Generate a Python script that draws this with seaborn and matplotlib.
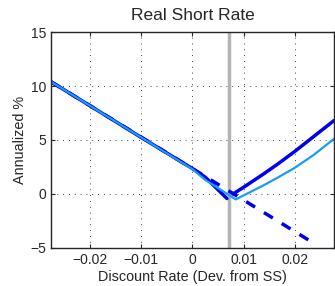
import numpy as np
import pandas as pd
import matplotlib
matplotlib.use("Agg")
import matplotlib.pyplot as plt
import seaborn as sns

# discount rate (dev. from SS) and real short rate (annualized %)
x_zlb_left = [-0.0275, -0.02, -0.01, 0.0, 0.0025, 0.0067]
y_zlb_left = [10.4, 8.2, 5.25, 2.35, 1.55, -0.42]
x_zlb_right = [0.0079, 0.0105, 0.0138, 0.0165, 0.0199, 0.0235, 0.0275]
y_zlb_right = [0.0, 0.8, 1.85, 2.75, 3.95, 5.3, 6.8]

x_alt = [-0.0275, -0.02, -0.01, 0.0, 0.0025, 0.0084, 0.0105, 0.0138, 0.0165, 0.0199, 0.0235, 0.0275]
y_alt = [10.4, 8.2, 5.25, 2.3, 1.3, -0.5, 0.0, 0.8, 1.5, 2.43, 3.6, 5.1]

x_nozlb = [-0.0275, -0.01, 0.0, 0.01, 0.0233]
y_nozlb = [10.4, 5.28, 2.35, -0.58, -4.48]

ss_line = 0.0071

xticks = [-0.02, -0.01, 0, 0.01, 0.02]
xticklabels = ["\u22120.02", "\u22120.01", "0", "0.01", "0.02"]
yticks = [-5, 0, 5, 10, 15]
yticklabels = ["\u22125", "0", "5", "10", "15"]

sns.set_style("ticks")
plt.rcParams["font.family"] = ["Liberation Sans", "DejaVu Sans"]
plt.rcParams["xtick.direction"] = "in"
plt.rcParams["ytick.direction"] = "in"

fig = plt.figure(figsize=(3.35, 2.86), dpi=100)
ax = fig.add_axes([0.152, 0.133, 0.845, 0.755])

ax.axvline(ss_line, color="#b4b4b4", lw=2.5, zorder=1)

dark = "#0000ee"
light = "#1a9cf0"
sns.lineplot(x=x_nozlb, y=y_nozlb, ax=ax, color=dark, lw=2.5, linestyle=(0, (3, 3)))
sns.lineplot(x=x_zlb_left, y=y_zlb_left, ax=ax, color=dark, lw=2.5)
sns.lineplot(x=x_zlb_right, y=y_zlb_right, ax=ax, color=dark, lw=2.5)
sns.lineplot(x=x_alt, y=y_alt, ax=ax, color=light, lw=1.6)

ax.set_xlim(-0.0275, 0.0275)
ax.set_ylim(-5, 15)
ax.set_xticks(xticks)
ax.set_xticklabels(xticklabels)
ax.set_yticks(yticks)
ax.set_yticklabels(yticklabels)
ax.grid(True, color="black", linestyle=(0, (1, 6)), lw=0.6)
ax.tick_params(labelsize=10, length=3, top=True, right=True)
for s in ax.spines.values():
    s.set_linewidth(1.0)

ax.set_title("Real Short Rate", fontsize=12.5, pad=9)
ax.set_xlabel("Discount Rate (Dev. from SS)", fontsize=10.4, labelpad=2)
ax.set_ylabel("Annualized %", fontsize=10.4, labelpad=2)

fig.savefig("out.png", dpi=100)
